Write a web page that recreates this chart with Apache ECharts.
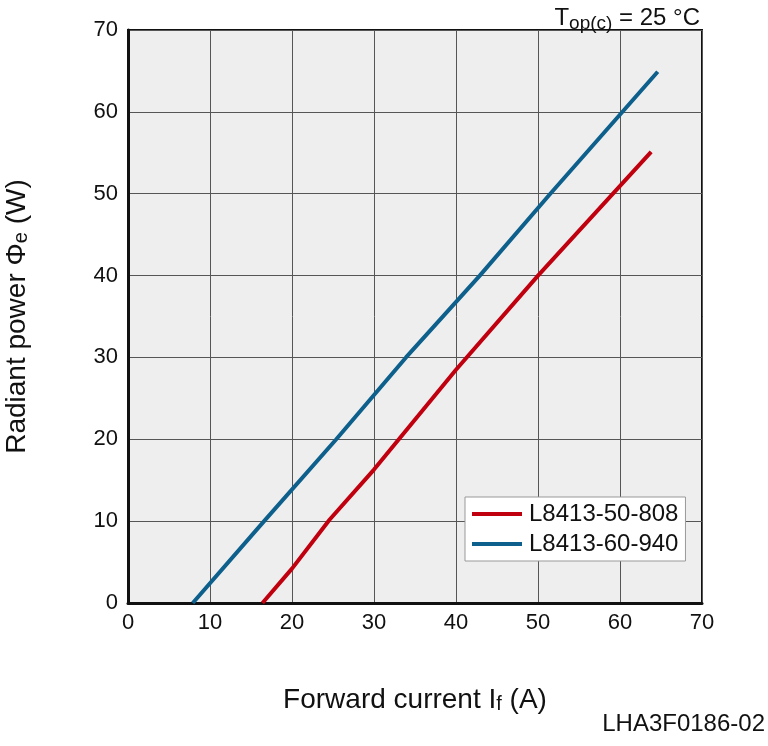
<!DOCTYPE html>
<html>
<head>
<meta charset="utf-8">
<script src="https://cdn.jsdelivr.net/npm/echarts@6/dist/echarts.min.js"></script>
<style>
html,body{margin:0;padding:0;background:#fff;}
#chart{width:768px;height:746px;}
</style>
</head>
<body>
<div id="chart"></div>
<script>
var xTicks = [0, 10, 20, 30, 40, 50, 60, 70];
var yTicks = [0, 10, 20, 30, 40, 50, 60, 70];
var seriesNames = ['L8413-50-808', 'L8413-60-940'];
var red808 = [[16.4, 0], [20, 4.2], [24.6, 10.2], [30, 16.3], [40, 28.5], [50, 40], [63.8, 55.1]];
var blue940 = [[7.9, 0], [16.6, 10], [25.4, 20], [33.9, 30], [42.9, 40], [51.5, 50], [64.6, 64.9]];

var FONT = 'Liberation Sans, Arial, Helvetica, sans-serif';
var chart = echarts.init(document.getElementById('chart'), null, {renderer: 'canvas'});
chart.setOption({
  animation: false,
  backgroundColor: '#ffffff',
  textStyle: {fontFamily: FONT},
  title: {
    text: '{a|T}{s|op(c)}{a| = 25 °C}',
    right: 63,
    top: -1,
    textStyle: {
      fontWeight: 'normal',
      rich: {
        a: {fontSize: 24, color: '#111', fontFamily: FONT, fontWeight: 'normal'},
        s: {fontSize: 19, color: '#111', fontFamily: FONT, fontWeight: 'normal', padding: [10, 0, 0, 0]}
      }
    }
  },
  grid: {
    left: 128, right: 66, top: 30, bottom: 143,
    outerBoundsMode: 'none', containLabel: false,
    show: true, backgroundColor: '#eeeeee', borderColor: '#111', borderWidth: 2
  },
  legend: {
    data: seriesNames,
    orient: 'vertical',
    left: 465, top: 497,
    backgroundColor: '#ffffff',
    borderColor: '#999999', borderWidth: 1,
    padding: [5, 7, 5, 7],
    itemGap: 6,
    itemWidth: 50, itemHeight: 4,
    icon: 'rect',
    textStyle: {fontSize: 24, color: '#111', fontFamily: FONT, padding: [0, 0, 0, 2]}
  },
  xAxis: {
    type: 'value', min: 0, max: 70, interval: 10,
    name: '{a|Forward current I}{s|f}{a| (A)}',
    nameLocation: 'middle', nameGap: 83,
    nameTextStyle: {rich: {
      a: {fontSize: 28, color: '#111', fontFamily: FONT},
      s: {fontSize: 20, color: '#111', fontFamily: FONT, padding: [8, 0, 0, 0]}
    }},
    axisLine: {show: true, lineStyle: {color: '#111', width: 3}},
    axisTick: {show: false},
    axisLabel: {fontSize: 22, color: '#111', margin: 9, fontFamily: FONT,
      formatter: function (v) { return xTicks.indexOf(v) >= 0 ? String(v) : ''; }},
    splitLine: {show: true, lineStyle: {color: '#555', width: 1}}
  },
  yAxis: {
    type: 'value', min: 0, max: 70, interval: 10,
    name: '{a|Radiant power Φ}{s|e}{a| (W)}',
    nameLocation: 'middle', nameGap: 97, nameRotate: 90,
    nameTextStyle: {rich: {
      a: {fontSize: 28, color: '#111', fontFamily: FONT},
      s: {fontSize: 20, color: '#111', fontFamily: FONT, padding: [8, 0, 0, 0]}
    }},
    axisLine: {show: true, lineStyle: {color: '#111', width: 3}},
    axisTick: {show: false},
    axisLabel: {fontSize: 22, color: '#111', margin: 10, fontFamily: FONT,
      formatter: function (v) { return yTicks.indexOf(v) >= 0 ? String(v) : ''; }},
    splitLine: {show: true, lineStyle: {color: '#555', width: 1}}
  },
  graphic: [{
    type: 'text', right: 3, top: 712,
    style: {text: 'LHA3F0186-02', fontSize: 24, fill: '#111', fontFamily: FONT}
  }],
  series: [{
    name: seriesNames[0], type: 'line', data: red808,
    symbol: 'none', smooth: false,
    lineStyle: {color: '#c0000e', width: 4},
    itemStyle: {color: '#c0000e'}
  }, {
    name: seriesNames[1], type: 'line', data: blue940,
    symbol: 'none', smooth: false,
    lineStyle: {color: '#0d5f8c', width: 4},
    itemStyle: {color: '#0d5f8c'}
  }]
});
</script>
</body>
</html>
